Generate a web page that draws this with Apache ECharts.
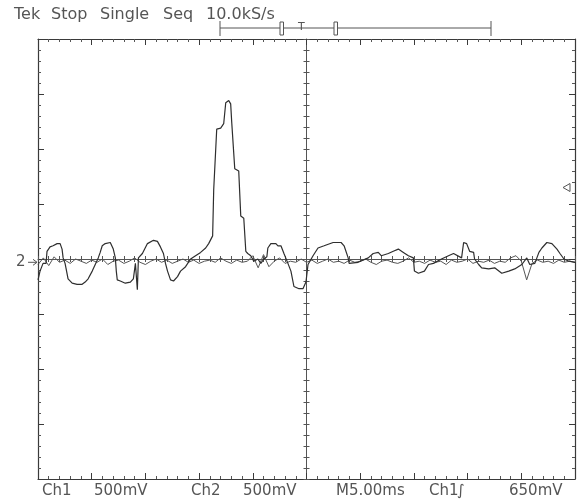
<!DOCTYPE html>
<html><head><meta charset="utf-8">
<script src="https://cdn.jsdelivr.net/npm/echarts@6/dist/echarts.min.js"></script>
<style>html,body{margin:0;padding:0;background:#fff}#c{width:582px;height:500px}</style>
</head><body><div id="c"></div>
<script>
// Time base: 5 ms/div, 10 divisions -> 0..50 ms. Vertical: 500 mV/div -> -2..2 V.
const ch2Time = [0.00,0.19,0.47,0.75,0.84,1.12,1.40,1.78,2.06,2.24,2.34,2.52,2.62,2.80,3.18,3.64,4.11,4.39,4.67,5.05,
5.33,5.61,5.79,5.98,6.26,6.73,7.01,7.20,7.29,7.38,7.66,8.13,8.60,8.88,9.07,9.25,9.35,9.72,10.19,10.75,
11.12,11.40,11.68,11.87,12.06,12.34,12.62,12.99,13.27,13.74,14.21,14.67,15.14,15.61,15.89,16.26,16.36,16.54,16.64,17.01,
17.29,17.48,17.76,17.94,18.04,18.22,18.32,18.69,18.88,19.16,19.35,19.53,19.81,20.09,20.47,20.75,21.03,21.31,21.40,21.68,
22.15,22.34,22.62,22.90,23.27,23.55,23.83,24.30,24.67,24.95,25.14,25.61,26.07,26.64,27.48,28.22,28.50,28.88,28.97,29.81,
30.75,31.21,31.68,31.96,32.62,33.08,33.55,34.02,34.49,34.95,35.05,35.42,35.98,36.36,36.82,37.57,38.22,38.69,39.44,39.63,
39.91,40.19,40.56,40.65,41.03,41.31,41.96,42.52,43.18,43.83,44.39,45.05,45.51,45.79,46.26,46.64,46.92,47.38,47.85,48.32,
48.60,48.97,49.44,50.00];
const ch2Volt = [-0.19,-0.11,-0.04,-0.04,0.07,0.11,0.12,0.14,0.14,0.09,0.01,-0.04,-0.09,-0.18,-0.22,-0.23,-0.23,-0.21,-0.18,-0.11,
-0.05,0.01,0.06,0.12,0.14,0.15,0.09,0.01,-0.11,-0.19,-0.20,-0.22,-0.21,-0.18,-0.04,-0.28,0.01,0.05,0.14,0.17,
0.16,0.11,0.05,-0.04,-0.11,-0.19,-0.20,-0.16,-0.11,-0.07,0.00,0.03,0.06,0.10,0.14,0.21,0.63,0.64,1.18,1.19,
1.23,1.42,1.44,1.41,1.24,1.23,0.82,0.80,0.39,0.37,0.07,0.05,0.03,-0.02,0.00,-0.04,0.00,0.02,0.10,0.14,
0.14,0.12,0.12,0.05,-0.04,-0.11,-0.25,-0.27,-0.27,-0.21,-0.05,0.03,0.10,0.12,0.15,0.15,0.12,0.01,-0.04,-0.03,
0.01,0.05,0.06,0.03,0.05,0.07,0.09,0.06,0.03,0.01,-0.11,-0.13,-0.11,-0.05,-0.04,0.00,0.03,0.05,0.01,0.15,
0.14,0.07,0.06,0.00,-0.05,-0.08,-0.09,-0.08,-0.13,-0.11,-0.09,-0.05,0.01,-0.05,-0.04,0.06,0.10,0.15,0.14,0.09,
0.05,0.00,-0.02,-0.03];
const ch1SampleMs = 0.5;
const ch1Volt = [-0.05,0.01,-0.06,0.02,-0.03,-0.01,-0.04,0.00,-0.02,-0.04,
-0.01,-0.03,0.00,-0.05,-0.02,-0.01,-0.04,-0.02,0.01,-0.03,
-0.05,-0.02,0.00,-0.03,-0.01,-0.04,-0.02,0.00,-0.03,-0.01,
-0.04,-0.02,-0.01,-0.03,0.01,-0.02,-0.04,-0.01,-0.03,-0.02,
0.03,-0.08,0.04,-0.07,-0.02,0.01,-0.04,-0.02,-0.03,0.00,
-0.03,-0.01,-0.04,-0.02,0.00,-0.03,-0.02,-0.04,-0.01,-0.03,
-0.02,0.00,-0.03,-0.05,-0.02,-0.01,-0.03,-0.04,-0.02,0.01,
-0.03,-0.02,-0.04,-0.01,-0.03,-0.02,-0.05,-0.01,-0.03,-0.02,
0.00,-0.04,-0.02,-0.03,-0.01,-0.04,-0.02,-0.03,0.01,0.03,
-0.02,-0.19,-0.04,-0.01,-0.03,-0.02,-0.04,-0.01,-0.03,-0.02,-0.03];
const headerWords = ['Tek','Stop','Single','Seq','10.0kS/s'];
const headerX = [14,51,100,163,206];
const footerLabels = ['Ch1','500mV','Ch2','500mV','M5.00ms','Ch1','\u222B','650mV'];
const footerX = [42,94,191,243,336,429,457,509];
const trigLevelV = 0.65; // 650 mV
const ch2GroundV = -0.03;

const chart = echarts.init(document.getElementById('c'), null, {renderer:'canvas'});
const G = {left:38, top:39, width:537, height:440};
const pxPerV = G.height/4;
const midY = G.top + G.height/2;
const ink = '#3a3a3a';
function frameAxis(isX, pos){
  return {gridIndex:0, type:'value', position:pos,
    min: isX?0:-2, max: isX?50:2, interval: isX?5:0.5,
    axisLine:{show:true,onZero:false,lineStyle:{color:ink,width:1.2}},
    axisTick:{show:true,inside:true,length:6,lineStyle:{color:ink,width:1}},
    minorTick:{show:true,splitNumber:5,length:3,lineStyle:{color:'#555',width:1}},
    axisLabel:{show:false}, splitLine:{show:false}, minorSplitLine:{show:false}};
}
function centerAxis(isX, gi, inside, showLine){
  return {gridIndex:gi, type:'value', position: isX?'bottom':'left',
    min: isX?-25:-2, max: isX?25:2, interval: isX?5:0.5,
    axisLine:{show:showLine,onZero:true,lineStyle:{color:'#555',width:1}},
    axisTick:{show:true,inside:inside,length:3,lineStyle:{color:'#555',width:1}},
    minorTick:{show:true,splitNumber:5,length:3,lineStyle:{color:'#555',width:1}},
    axisLabel:{show:false}, splitLine:{show:false}, minorSplitLine:{show:false}};
}
const ch2Data = ch2Time.map((t,i)=>[t, ch2Volt[i]]);
const ch1Data = ch1Volt.map((v,i)=>[i*ch1SampleMs, v]);

const trigY = midY - trigLevelV*pxPerV;
const gndY = midY - ch2GroundV*pxPerV;
const grey = '#555';
const graphics = [
  // trigger position bar
  {type:'line', shape:{x1:220,y1:28,x2:491,y2:28}, style:{stroke:grey,lineWidth:1}},
  {type:'line', shape:{x1:220,y1:21,x2:220,y2:36}, style:{stroke:grey,lineWidth:1}},
  {type:'line', shape:{x1:491,y1:21,x2:491,y2:36}, style:{stroke:grey,lineWidth:1}},
  {type:'rect', shape:{x:280,y:22,width:3.5,height:13}, style:{stroke:grey,fill:'#fff',lineWidth:1}},
  {type:'rect', shape:{x:334,y:22,width:3.5,height:13}, style:{stroke:grey,fill:'#fff',lineWidth:1}},
  {type:'text', x:298, y:22, style:{text:'T', font:'11px "DejaVu Sans"', fill:grey}},
  // channel 2 ground marker
  {type:'text', x:16, y:gndY-8, style:{text:'2', font:'15px "DejaVu Sans"', fill:grey}},
  {type:'line', shape:{x1:28,y1:gndY,x2:37,y2:gndY}, style:{stroke:grey,lineWidth:1}},
  {type:'polyline', shape:{points:[[33,gndY-3],[37,gndY],[33,gndY+3]]}, style:{stroke:grey,fill:null,lineWidth:1}},
  // trigger level marker
  {type:'polygon', shape:{points:[[563,trigY],[570,trigY-4],[570,trigY+4]]}, style:{stroke:grey,fill:'#fff',lineWidth:1}}
];
headerWords.forEach((s,i)=>{
  graphics.push({type:'text', x:headerX[i], y:7, style:{text:s, font:'16px "DejaVu Sans"', fill:grey}});
});
footerLabels.forEach((s,i)=>{
  graphics.push({type:'text', x:footerX[i], y:484, style:{text:s, font:'15px "DejaVu Sans"', fill:grey}});
});

chart.setOption({
  animation:false,
  backgroundColor:'#fff',
  grid:[Object.assign({},G),Object.assign({},G),Object.assign({},G)],
  xAxis:[frameAxis(true,'bottom'),frameAxis(true,'top'),centerAxis(true,1,true,true),centerAxis(true,2,false,false)],
  yAxis:[frameAxis(false,'left'),frameAxis(false,'right'),centerAxis(false,1,true,true),centerAxis(false,2,false,false)],
  series:[
    {type:'line', xAxisIndex:0, yAxisIndex:0, data:ch1Data, showSymbol:false, lineStyle:{color:'#555',width:1}},
    {type:'line', xAxisIndex:0, yAxisIndex:0, data:ch2Data, showSymbol:false, lineStyle:{color:'#2e2e2e',width:1.2}}
  ],
  graphic:graphics
});
</script></body></html>
